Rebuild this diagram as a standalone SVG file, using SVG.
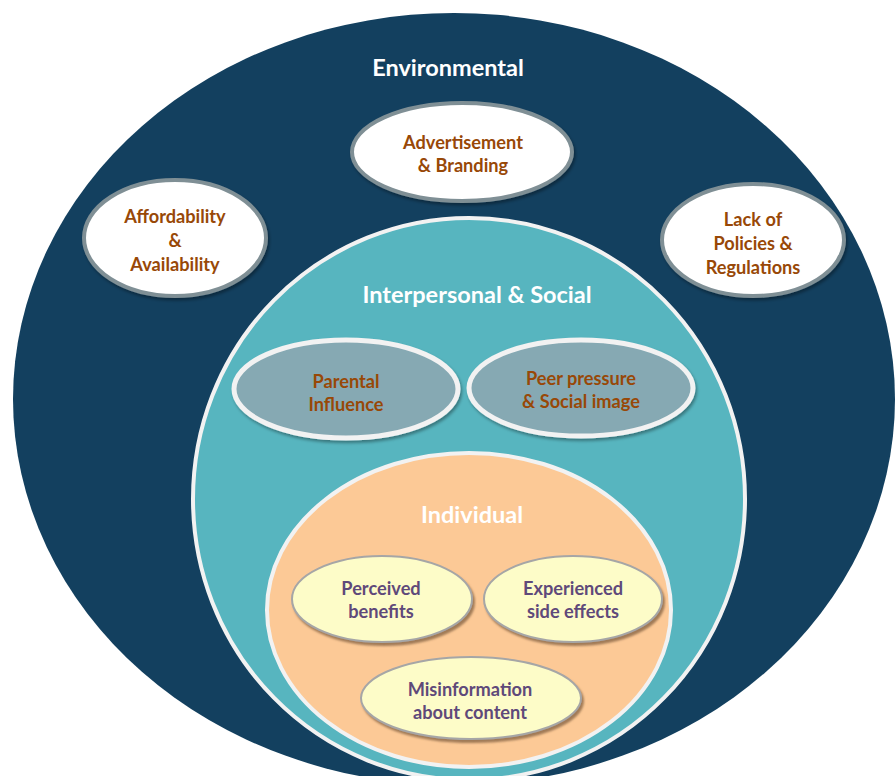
<svg xmlns="http://www.w3.org/2000/svg" width="895" height="776" viewBox="0 0 895 776">
  <style>
    text { font-family: Lato, "Noto Sans", "Liberation Sans", sans-serif; font-weight: bold; text-anchor: middle; }
    .head { fill: #ffffff; font-size: 23.5px; }
    .brown { fill: #984807; font-size: 18.2px; }
    .purple { fill: #5f497a; font-size: 18.2px; }
    .env { fill: #ffffff; stroke: #7f8f95; stroke-width: 4; filter: url(#sh); }
    .soc { fill: #86a9b3; stroke: #f2f2f2; stroke-width: 5; filter: url(#sh); }
    .ind { fill: #fdfcc8; stroke: #a6a6a6; stroke-width: 2; filter: url(#shb); }
  </style>
  <defs>
    <filter id="sh" x="-20%" y="-20%" width="140%" height="150%">
      <feDropShadow dx="1.5" dy="2.5" stdDeviation="1.5" flood-color="#000000" flood-opacity="0.35"/>
    </filter>
    <filter id="shb" x="-20%" y="-20%" width="140%" height="150%">
      <feDropShadow dx="2" dy="3" stdDeviation="1.2" flood-color="#7a5a3a" flood-opacity="0.7"/>
    </filter>
  </defs>

  <!-- nested levels -->
  <g id="environmental">
    <ellipse cx="454" cy="399" rx="441" ry="386" fill="#13405f"/>
    <text class="head" x="448" y="76">Environmental</text>
  </g>
  <g id="interpersonal">
    <ellipse cx="469" cy="499" rx="276" ry="281" fill="#57b5bf" stroke="#f2f2f2" stroke-width="4"/>
    <text class="head" x="477" y="303">Interpersonal &amp; Social</text>
  </g>
  <g id="individual">
    <ellipse cx="469" cy="610" rx="202" ry="157" fill="#fcc996" stroke="#f2f2f2" stroke-width="4"/>
    <text class="head" x="472" y="523">Individual</text>
  </g>

  <!-- environmental factors -->
  <g id="advertisement">
    <ellipse class="env" cx="462" cy="152" rx="110" ry="49"/>
    <text class="brown" x="463" y="149">Advertisement</text>
    <text class="brown" x="463" y="172">&amp; Branding</text>
  </g>
  <g id="affordability">
    <ellipse class="env" cx="175" cy="238" rx="91" ry="58"/>
    <text class="brown" x="175" y="223">Affordability</text>
    <text class="brown" x="175" y="247">&amp;</text>
    <text class="brown" x="175" y="271">Availability</text>
  </g>
  <g id="policies">
    <ellipse class="env" cx="753" cy="240" rx="91" ry="56"/>
    <text class="brown" x="753" y="226">Lack of</text>
    <text class="brown" x="753" y="250">Policies &amp;</text>
    <text class="brown" x="753" y="274">Regulations</text>
  </g>

  <!-- interpersonal factors -->
  <g id="parental">
    <ellipse class="soc" cx="346" cy="389" rx="112" ry="49"/>
    <text class="brown" x="346" y="388">Parental</text>
    <text class="brown" x="346" y="411">Influence</text>
  </g>
  <g id="peer">
    <ellipse class="soc" cx="581" cy="388" rx="112" ry="48"/>
    <text class="brown" x="581" y="385">Peer pressure</text>
    <text class="brown" x="581" y="408">&amp; Social image</text>
  </g>

  <!-- individual factors -->
  <g id="benefits">
    <ellipse class="ind" cx="382" cy="599" rx="90" ry="43"/>
    <text class="purple" x="381" y="595">Perceived</text>
    <text class="purple" x="381" y="618">benefits</text>
  </g>
  <g id="side-effects">
    <ellipse class="ind" cx="573" cy="599" rx="89" ry="43"/>
    <text class="purple" x="573" y="595">Experienced</text>
    <text class="purple" x="573" y="618">side effects</text>
  </g>
  <g id="misinformation">
    <ellipse class="ind" cx="471" cy="698" rx="110" ry="41"/>
    <text class="purple" x="470" y="696">Misinformation</text>
    <text class="purple" x="470" y="719">about content</text>
  </g>

  <g id="connectors"/>
</svg>
